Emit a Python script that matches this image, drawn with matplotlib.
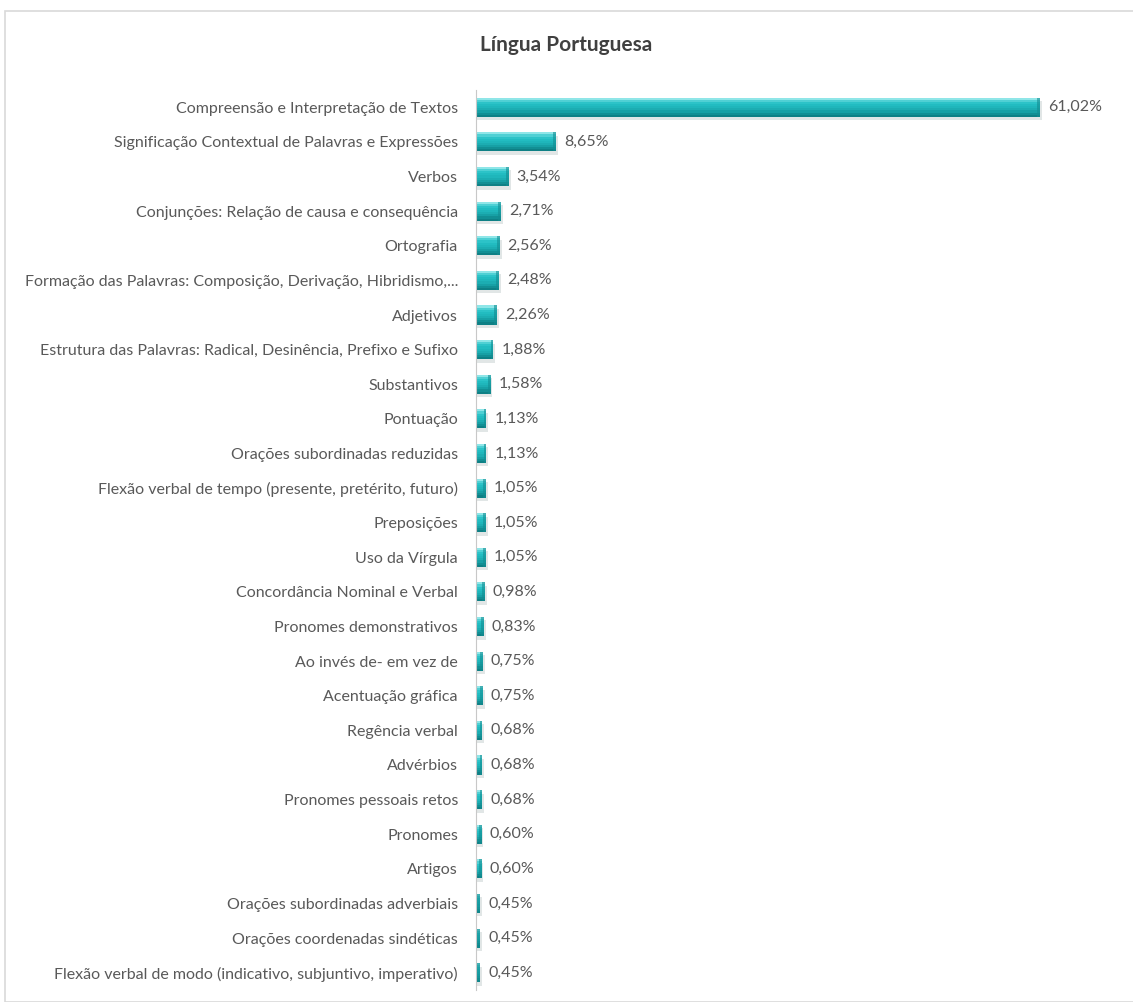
import matplotlib.pyplot as plt
from matplotlib.patches import Rectangle

# Dados do gráfico (percentual de questões por assunto)
categories = [
    'Compreensão e Interpretação de Textos',
    'Significação Contextual de Palavras e Expressões',
    'Verbos',
    'Conjunções: Relação de causa e consequência',
    'Ortografia',
    'Formação das Palavras: Composição, Derivação, Hibridismo,...',
    'Adjetivos',
    'Estrutura das Palavras: Radical, Desinência, Prefixo e Sufixo',
    'Substantivos',
    'Pontuação',
    'Orações subordinadas reduzidas',
    'Flexão verbal de tempo (presente, pretérito, futuro)',
    'Preposições',
    'Uso da Vírgula',
    'Concordância Nominal e Verbal',
    'Pronomes demonstrativos',
    'Ao invés de- em vez de',
    'Acentuação gráfica',
    'Regência verbal',
    'Advérbios',
    'Pronomes pessoais retos',
    'Pronomes',
    'Artigos',
    'Orações subordinadas adverbiais',
    'Orações coordenadas sindéticas',
    'Flexão verbal de modo (indicativo, subjuntivo, imperativo)',
]
values = [61.02, 8.65, 3.54, 2.71, 2.56, 2.48, 2.26, 1.88, 1.58, 1.13, 1.13,
          1.05, 1.05, 1.05, 0.98, 0.83, 0.75, 0.75, 0.68, 0.68, 0.68, 0.60,
          0.60, 0.45, 0.45, 0.45]
value_labels = [f'{v:.2f}%'.replace('.', ',') for v in values]

plt.rcParams['font.family'] = ['Lato', 'DejaVu Sans']

W, H = 1133, 1002
fig = plt.figure(figsize=(W / 100, H / 100), dpi=100)

# moldura clara do gráfico
fig.patches.append(Rectangle((5 / W, 0), 1.0, 1 - 11 / H, transform=fig.transFigure,
                             fill=False, edgecolor='#d9d9d9', linewidth=1.2))

ax = fig.add_axes([476 / W, 1 - 990 / H, (1110 - 476) / W, 900 / H])

y = list(range(len(categories)))
h = 0.55

# sombra
ax.barh([i + 0.1 for i in y], [v + 0.15 for v in values], height=h, left=0.05,
        color='#c9d2d3', alpha=0.55, zorder=1)

# faixas de cima para baixo, imitando o degradê da barra 3D
strips = ['#8fe6e8', '#4fd0d4', '#2cc3c8', '#22bcc1', '#1fb6bb', '#1cadb2',
          '#17a0a5', '#128f94', '#0e8085']
n = len(strips)
for k, c in enumerate(strips):
    off = -h / 2 + h * (k + 0.5) / n
    ax.barh([i + off for i in y], values, height=h / n * 1.02, color=c,
            linewidth=0, zorder=2)

# tampa escura na ponta direita
cap = 0.3
ax.barh(y, [cap] * len(values), left=[v - cap for v in values], height=h,
        color='#138d92', alpha=0.6, linewidth=0, zorder=3)

for i, (v, lab) in enumerate(zip(values, value_labels)):
    ax.text(v + 0.85, i, lab, va='center', ha='left', fontsize=11.5, color='#595959')

ax.set_ylim(len(categories) - 0.5, -0.5)
ax.set_xlim(0, (1110 - 476) / 9.24)
ax.set_yticks(y)
ax.set_yticklabels(categories, fontsize=11.5, color='#595959')
ax.tick_params(axis='y', length=0, pad=13)
ax.set_xticks([])
for s in ['top', 'right', 'bottom']:
    ax.spines[s].set_visible(False)
ax.spines['left'].set_color('#c8c8c8')

fig.text(0.5, 1 - 45 / H, 'Língua Portuguesa', ha='center', va='center',
         fontsize=15, fontweight='bold', color='#404040')

plt.savefig('out.png', dpi=100)
